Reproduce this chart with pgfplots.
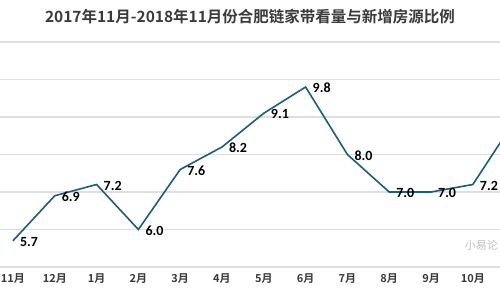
\documentclass[border=0pt]{standalone}
\usepackage{pgfplots}
\pgfplotsset{compat=1.18}
\usepackage{fontspec}
\setmainfont{Noto Sans CJK SC}
\newfontfamily\cjkbold{Noto Sans CJK SC Bold}
\newfontfamily\numfont{Carlito}
\definecolor{linec}{HTML}{1F5C7A}
\definecolor{gridc}{HTML}{DEDEDE}
\definecolor{tickc}{HTML}{3A3A3A}
\begin{document}
\begin{tikzpicture}
\useasboundingbox (0pt,-33pt) rectangle (500pt,267pt);
\begin{axis}[
  at={(0pt,0pt)}, anchor=south west,
  scale only axis, width=500pt, height=225pt,
  xmin=-0.31, xmax=11.65, ymin=5, ymax=11,
  axis line style={draw=none},
  ytick={5,6,7,8,9,10,11}, yticklabels={},
  ymajorgrids, grid style={gridc, line width=1.2pt},
  xtick={0,1,2,3,4,5,6,7,8,9,10,11},
  xticklabels={11月,12月,1月,2月,3月,4月,5月,6月,7月,8月,9月,10月},
  xticklabel style={font=\cjkbold\fontsize{11}{13}\selectfont, text=tickc, yshift=-3pt},
  major tick length=0pt,
  clip mode=individual,
  /pgf/number format/assume math mode=true,
  nodes near coords={\pgfmathprintnumber[fixed,fixed zerofill,precision=1,assume math mode=true]{\pgfplotspointmeta}},
  every node near coord/.append style={anchor=west, font=\numfont\bfseries\fontsize{14}{16}\selectfont, text=black, xshift=3pt, yshift=-1pt},
]
\addplot[linec, line width=1.6pt, mark=none] coordinates {
 (0,5.7) (1,6.9) (2,7.2) (3,6.0) (4,7.6) (5,8.2) (6,9.1) (7,9.8) (8,8.0) (9,7.0) (10,7.0) (11,7.2) (12,8.9)
};
\end{axis}
\node[font=\cjkbold\fontsize{15.5}{18}\selectfont, text=tickc] at (250pt,250pt) {2017年11月-2018年11月份合肥链家带看量与新增房源比例};
\node[font=\fontsize{11}{13}\selectfont, text=black!25, anchor=east, inner sep=1pt] at (499pt,22pt) {小易论};
\end{tikzpicture}
\end{document}
